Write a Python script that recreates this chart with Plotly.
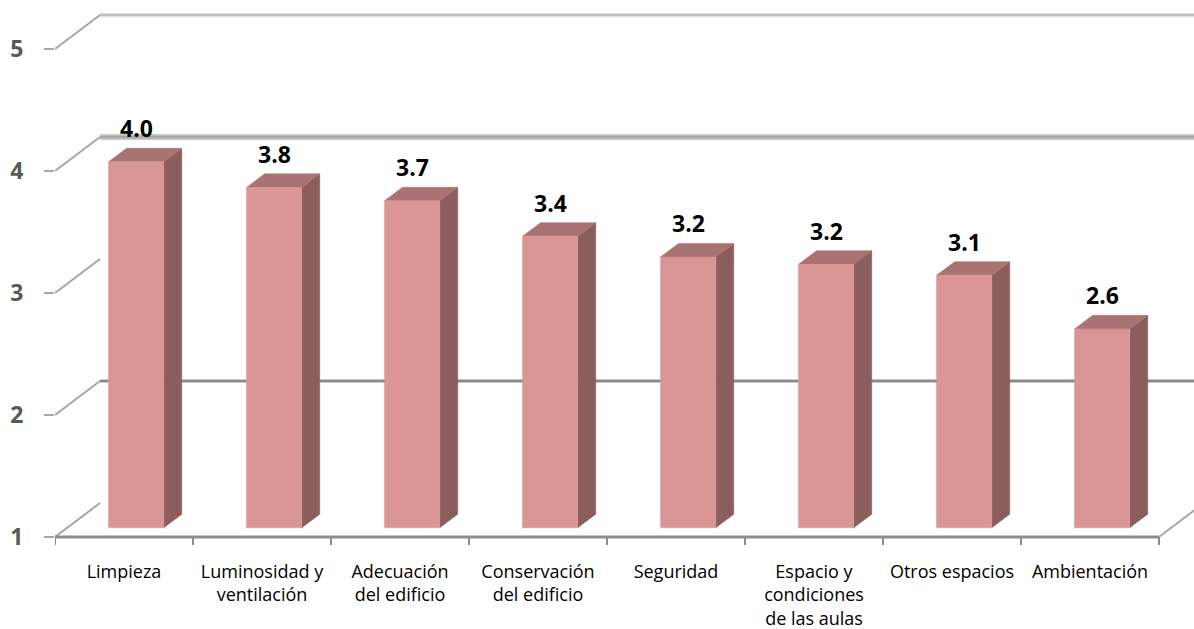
import plotly.graph_objects as go

# ---------------- data ----------------
categories = [
    "Limpieza",
    "Luminosidad y<br>ventilación",
    "Adecuación<br>del edificio",
    "Conservación<br>del edificio",
    "Seguridad",
    "Espacio y<br>condiciones<br>de las aulas",
    "Otros espacios",
    "Ambientación",
]
values = [4.0, 3.79, 3.68, 3.39, 3.22, 3.16, 3.07, 2.63]
y_ticks = [1, 2, 3, 4, 5]
grid_values = [2, 4, 5]

# ---------------- geometry (oblique 3D look) ----------------
W, H = 1194, 629
ML, MB = 55, 79
PX_PER_CAT = 138.0
PX_PER_VAL = 122.0
AXIS_PX_FROM_BOTTOM = 629 - 537
DX_DEPTH = 45.0 / PX_PER_CAT
DY_DEPTH = 34.0 / PX_PER_VAL

plot_h = H - MB
x_range = [0, (W - ML) / PX_PER_CAT]
y_low = 1 - (AXIS_PX_FROM_BOTTOM - MB) / PX_PER_VAL
y_range = [y_low, y_low + plot_h / PX_PER_VAL]


def proj(c, v, d):
    return c + DX_DEPTH * d, v + DY_DEPTH * d


HALF = 0.2
D0, D1 = 0.27, 0.67

FRONT = "#d99694"
SIDE = "#8b5e5d"
TOP = "#a87372"

fig = go.Figure()


def add_line(pts, color, width):
    xs = [p[0] if p is not None else None for p in pts]
    ys = [p[1] if p is not None else None for p in pts]
    fig.add_trace(go.Scatter(x=xs, y=ys, mode="lines",
                             line=dict(color=color, width=width),
                             hoverinfo="skip", showlegend=False))


# back wall gridlines
for g in grid_values:
    if g == 4:
        add_line([proj(0, g, 1), proj(len(categories) + 0.5, g, 1)], "#c8c8c8", 6)
        add_line([proj(0, g, 1), proj(len(categories) + 0.5, g, 1)], "#a8a8a8", 2.5)
    else:
        col = "#8c8c8c" if g == 2 else "#c0c0c0"
        add_line([proj(0, g, 1), proj(len(categories) + 0.5, g, 1)], col, 3)

# diagonal tick connectors (left wall edge)
for t in y_ticks:
    add_line([proj(0, t, 0), proj(0, t, 1)], "#a6a6a6", 2)

# front baseline + right floor edge
add_line([proj(0, 1, 0), proj(len(categories), 1, 0)], "#8c8c8c", 3)
add_line([proj(len(categories), 1, 0), proj(len(categories), 1, 1)], "#a6a6a6", 2)

# category boundary ticks
tk = []
for i in range(len(categories) + 1):
    tk += [proj(i, 1, 0), (i, 1 - 8 / PX_PER_VAL), None]
add_line(tk, "#8c8c8c", 2)


def add_faces(face_fn, color):
    xs, ys = [], []
    for i, v in enumerate(values):
        c = i + 0.5
        for p in face_fn(c, v):
            xs.append(p[0]); ys.append(p[1])
        xs.append(None); ys.append(None)
    fig.add_trace(go.Scatter(x=xs, y=ys, mode="lines", fill="toself",
                             fillcolor=color, line=dict(color=color, width=0.5),
                             hoverinfo="skip", showlegend=False))


def side(c, v):
    return [proj(c + HALF, 1, D0), proj(c + HALF, 1, D1), proj(c + HALF, v, D1),
            proj(c + HALF, v, D0), proj(c + HALF, 1, D0)]


def top(c, v):
    return [proj(c - HALF, v, D0), proj(c + HALF, v, D0), proj(c + HALF, v, D1),
            proj(c - HALF, v, D1), proj(c - HALF, v, D0)]


def front(c, v):
    return [proj(c - HALF, 1, D0), proj(c + HALF, 1, D0), proj(c + HALF, v, D0),
            proj(c - HALF, v, D0), proj(c - HALF, 1, D0)]


add_faces(side, SIDE)
add_faces(top, TOP)
add_faces(front, FRONT)

# data labels
for i, v in enumerate(values):
    c = i + 0.5
    x_lab = proj(c, v, D0)[0]
    y_lab = proj(c, v, D1)[1]
    fig.add_annotation(x=x_lab, y=y_lab, text=f"{v:.1f}", showarrow=False,
                       yanchor="bottom", xanchor="center", yshift=2,
                       font=dict(family="Open Sans, Arial", size=23, color="#000000", weight="bold"))

fig.update_layout(
    width=W, height=H,
    margin=dict(l=ML, r=0, t=0, b=MB),
    paper_bgcolor="white", plot_bgcolor="white",
    showlegend=False,
    xaxis=dict(range=x_range, showgrid=False, zeroline=False, showline=False,
               tickmode="array", tickvals=[i + 0.5 for i in range(len(categories))],
               ticktext=categories, ticks="", ticklabelstandoff=9,
               tickfont=dict(family="Open Sans, Arial", size=18, color="#000000"),
               fixedrange=True),
    yaxis=dict(range=y_range, showgrid=False, zeroline=False, showline=False,
               tickmode="array", tickvals=y_ticks, ticktext=[str(t) for t in y_ticks],
               ticks="outside", ticklen=10, tickcolor="#a6a6a6", tickwidth=2,
               ticklabelstandoff=16,
               tickfont=dict(family="Open Sans, Arial", size=23, color="#595959", weight="bold"),
               fixedrange=True),
)

fig.write_html("out.html")
